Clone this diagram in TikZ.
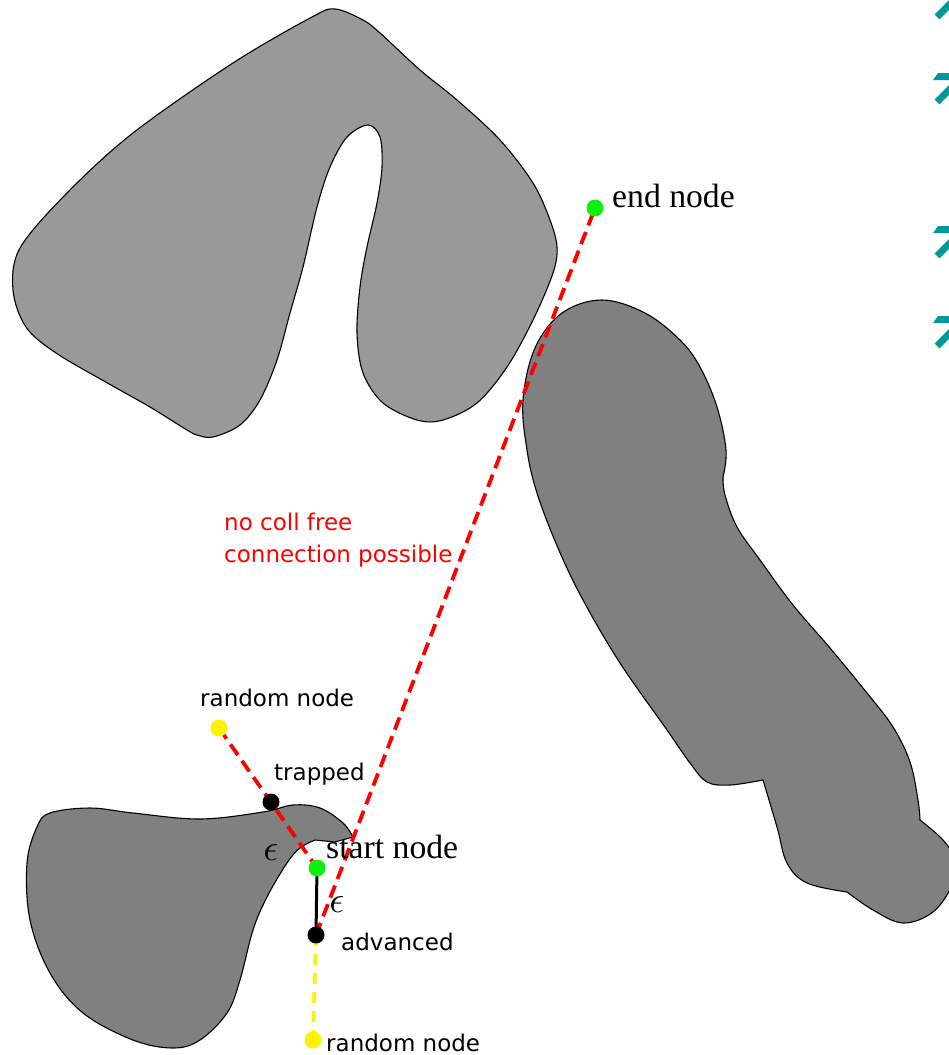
\documentclass[tikz,border=0pt]{standalone}
\usepackage{fontspec}
\setmainfont{Liberation Serif}
\newfontfamily\comicfont{DejaVu Sans}
\usetikzlibrary{backgrounds}
\definecolor{lightobs}{HTML}{999999}
\definecolor{darkobs}{HTML}{808080}
\definecolor{bulletteal}{HTML}{009999}
\definecolor{nodegreen}{HTML}{11EE11}
\definecolor{nodeyellow}{HTML}{FFF200}
\tikzset{
  obstacle/.style={draw=black, line width=1.1pt},
  dot/.style={circle, inner sep=0pt, minimum size=17pt},
  lbl/.style={font=\comicfont\fontsize{23}{28}\selectfont, inner sep=0pt},
  tlbl/.style={font=\fontsize{33.7}{40}\selectfont, inner sep=0pt},
  elbl/.style={inner sep=0pt},
  reddash/.style={draw=red, line width=3.8pt, dash pattern=on 13pt off 7pt},
  yellowdash/.style={draw=nodeyellow, line width=3.8pt, dash pattern=on 11pt off 8pt},
  solidlink/.style={draw=black, line width=3pt},
  bulletbar/.style={draw=bulletteal, line width=7pt},
}
\begin{document}
\begin{tikzpicture}[x=1pt,y=-1pt]
\useasboundingbox (0,0) rectangle (949,1055);

% nodes
\node[dot, fill=nodegreen] (endn) at (595,208) {};
\node[dot, fill=nodegreen] (startn) at (317,868) {};
\node[dot, fill=black] (adv) at (316,935) {};
\node[dot, fill=black] (trap) at (271,802) {};
\node[dot, fill=nodeyellow] (rndtop) at (219,728) {};
\node[dot, fill=nodeyellow] (rndbot) at (313,1040) {};

\begin{pgfonlayer}{background}
% top obstacle
\path[obstacle, fill=lightobs] plot[smooth cycle, tension=0.55] coordinates {
 (312,17) (335,9) (363,20) (380,33) (420,70) (457,100) (500,140) (533,183)
 (550,220) (557,247) (553,273) (533,320) (507,367) (477,403) (443,420)
 (417,420) (383,403) (363,373) (357,333) (360,287) (367,247) (377,203)
 (382,167) (380,137) (368,125) (347,137) (330,167) (317,207) (303,267)
 (290,313) (277,360) (260,400) (240,425) (213,437) (197,435) (187,430)
 (150,407) (111,385) (56,353) (26,327) (13,290) (20,248) (67,193)
 (133,133) (233,63)};
% right obstacle
\path[obstacle, fill=darkobs]
 plot[smooth, tension=0.6] coordinates {(763,780) (777,827) (787,863) (807,883) (847,892)}
 -- plot[smooth, tension=0.6] coordinates {(847,892) (873,910) (903,923) (933,912) (952,885) (955,860) (943,840) (920,820)}
 -- plot[smooth, tension=0.6] coordinates {(920,820) (918,800) (910,762) (893,727) (867,693) (830,648) (793,605) (760,560) (737,527) (725,495) (723,477)}
 -- plot[smooth, tension=0.6] coordinates {(723,477) (726,450) (717,407) (700,367) (680,340) (645,313) (602,300) (562,313) (535,348) (523,400) (527,450) (537,493) (558,548) (583,600) (620,663) (667,730) (690,763) (707,782) (730,785) (763,780)}
 -- cycle;
% bottom-left obstacle
\path[obstacle, fill=darkobs]
 plot[smooth, tension=0.6] coordinates {(315,840) (300,848) (287,863) (267,897) (253,930) (240,980) (227,1013) (200,1040) (173,1048) (133,1040) (83,1013) (50,973) (30,920) (27,863) (37,827) (50,813) (90,808) (133,813) (200,819) (263,812) (293,805) (320,808) (343,823) (353,837)}
 -- (335,842) -- cycle;

% connectors
\draw[reddash] (rndtop.center) -- (startn.center);
\draw[reddash] (adv.center) -- (endn.center);
\draw[solidlink] (startn.center) -- (adv.center);
\draw[yellowdash] (adv.center) -- (rndbot.center);
\end{pgfonlayer}

% labels
\node[tlbl, anchor=base west] (endlbl) at (612,207) {end node};
\node[tlbl, anchor=base west] (startlbl) at (326,858) {start node};
\node[lbl, anchor=base west] (rndtoplbl) at (200,706) {random node};
\node[lbl, anchor=base west] (traplbl) at (274,780) {trapped};
\node[lbl, anchor=base west] (advlbl) at (341,950) {advanced};
\node[lbl, anchor=base west] (rndbotlbl) at (326,1051) {random node};
\node[lbl, anchor=base west, text=red] (nocoll1) at (224,530) {no coll free};
\node[lbl, anchor=base west, text=red] (nocoll2) at (224,562) {connection possible};
\node[elbl] (eps1) at (271,853) {\scalebox{3.7}{$\epsilon$}};
\node[elbl] (eps2) at (337,905) {\scalebox{3.7}{$\epsilon$}};

% partially visible bullet glyphs at the right edge
\draw[bulletbar] (937,17) -- (958,-4);
\fill[bulletteal] (938,73) -- (952,73) -- (952,80) -- (933,80) -- cycle;
\draw[bulletbar] (937,102) -- (958,81);
\fill[bulletteal] (938,226) -- (952,226) -- (952,233) -- (933,233) -- cycle;
\draw[bulletbar] (937,256) -- (958,235);
\fill[bulletteal] (938,316) -- (952,316) -- (952,323) -- (933,323) -- cycle;
\draw[bulletbar] (937,346) -- (958,325);
\end{tikzpicture}
\end{document}
